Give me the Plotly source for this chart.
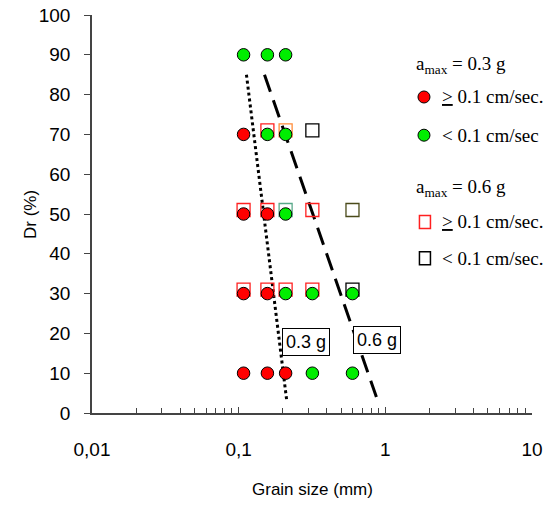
import math
import plotly.graph_objects as go

# Data: 0.3 g circles
red_circ_x = [0.108, 0.108, 0.157, 0.108, 0.157, 0.108, 0.157, 0.209]
red_circ_y = [70, 50, 50, 30, 30, 10, 10, 10]
green_circ_x = [0.108, 0.157, 0.209, 0.157, 0.209, 0.209, 0.209, 0.318, 0.597, 0.318, 0.597]
green_circ_y = [90, 90, 90, 70, 70, 50, 30, 30, 30, 10, 10]
# 0.6 g squares
red_sq_x = [0.157, 0.108, 0.157, 0.318, 0.108, 0.157, 0.209, 0.318]
red_sq_y = [71, 51, 51, 51, 31, 31, 31, 31]
orange_sq_x = [0.209]
orange_sq_y = [71]
teal_sq_x = [0.209]
teal_sq_y = [51]
black_sq_x = [0.318, 0.597]
black_sq_y = [71, 31]
olive_sq_x = [0.597]
olive_sq_y = [51]
# boundary lines
line03_x = [0.113, 0.212]
line03_y = [85, 3.5]
line06_x = [0.150, 0.869]
line06_y = [85, 4]
# line labels
label_text = ["0.3 g", "0.6 g"]
label_x = [0.286, 0.883]
label_y = [17.8, 18.3]

x_tickvals = [0.01, 0.1, 1, 10]
x_ticktext = ["0,01", "0,1", "1", "10"]

fig = go.Figure()

fig.add_trace(go.Scatter(x=line03_x, y=line03_y, mode="lines",
                         line=dict(color="black", width=3, dash="dot")))
fig.add_trace(go.Scatter(x=line06_x, y=line06_y, mode="lines",
                         line=dict(color="black", width=3, dash="18px,9px")))

def sq(x, y, c):
    fig.add_trace(go.Scatter(x=x, y=y, mode="markers",
                             marker=dict(symbol="square-open", size=13, color=c,
                                         line=dict(width=1.3, color=c))))

sq(red_sq_x, red_sq_y, "#ff2020")
sq(orange_sq_x, orange_sq_y, "#ff8c3a")
sq(teal_sq_x, teal_sq_y, "#5aa98a")
sq(black_sq_x, black_sq_y, "black")
sq(olive_sq_x, olive_sq_y, "#4a4a1a")

fig.add_trace(go.Scatter(x=red_circ_x, y=red_circ_y, mode="markers",
                         marker=dict(symbol="circle", size=12.5, color="#ff0000",
                                     line=dict(width=1, color="black"))))
fig.add_trace(go.Scatter(x=green_circ_x, y=green_circ_y, mode="markers",
                         marker=dict(symbol="circle", size=12.5, color="#00ee00",
                                     line=dict(width=1, color="black"))))

sans = "Liberation Sans, Arial, sans-serif"
serif = "Liberation Serif, Times New Roman, serif"

fig.update_layout(
    width=555, height=506,
    margin=dict(l=92, r=23, t=15, b=93),
    paper_bgcolor="white", plot_bgcolor="white",
    showlegend=False,
    font=dict(family=sans, size=19, color="black"),
    xaxis=dict(type="log", range=[-2, 1], tickvals=x_tickvals, ticktext=x_ticktext,
               showgrid=False, zeroline=False, showline=True, linecolor="#444",
               linewidth=1.5, ticks="inside", ticklen=6, tickcolor="#444",
               minor=dict(ticks="inside", ticklen=5, tickcolor="#444", dtick="D1"),
               tickfont=dict(size=19), ticklabelstandoff=18, automargin=False),
    yaxis=dict(range=[0, 100], dtick=10, showgrid=False, zeroline=False,
               showline=True, linecolor="#444", linewidth=1.5, ticks="outside",
               ticklen=6, tickcolor="#444", tickfont=dict(size=19), ticklabelstandoff=10,
               automargin=False),
)

# axis titles
fig.add_annotation(x=0.5, y=-0.193, xref="paper", yref="paper", text="Grain size (mm)",
                   showarrow=False, xanchor="center", yanchor="middle",
                   font=dict(family=sans, size=17))
fig.add_annotation(x=-0.141, y=0.5, xref="paper", yref="paper", text="Dr (%)",
                   showarrow=False, textangle=-90, xanchor="center", yanchor="middle",
                   font=dict(family=sans, size=17))

for t, x, y in zip(label_text, label_x, label_y):
    fig.add_annotation(x=math.log10(x), y=y, xref="x", yref="y", text=t, showarrow=False,
                       font=dict(family=sans, size=18), bgcolor="white",
                       bordercolor="black", borderwidth=1, borderpad=3)

# legend (manual)
def txt(x, y, t, size=19):
    fig.add_annotation(x=x, y=y, xref="paper", yref="paper", text=t, showarrow=False,
                       xanchor="left", yanchor="middle",
                       font=dict(family=serif, size=size, color="black"))

txt(0.732, 0.874, "a<sub>max</sub> = 0.3 g")
txt(0.79, 0.794, "<u>></u> 0.1 cm/sec.")
txt(0.79, 0.698, "< 0.1 cm/sec")
txt(0.732, 0.565, "a<sub>max</sub> = 0.6 g")
txt(0.79, 0.48, "<u>></u> 0.1 cm/sec.")
txt(0.79, 0.389, "< 0.1 cm/sec.")

def circ(xp, yp, fill):
    fig.add_shape(type="circle", xref="paper", yref="paper", xsizemode="pixel",
                  ysizemode="pixel", xanchor=xp, yanchor=yp, x0=-6, x1=6, y0=-6, y1=6,
                  fillcolor=fill, line=dict(color="black", width=1))

def sqr(xp, yp, col):
    fig.add_shape(type="rect", xref="paper", yref="paper", xsizemode="pixel",
                  ysizemode="pixel", xanchor=xp, yanchor=yp, x0=-5.5, x1=5.5, y0=-6.5, y1=6.5,
                  fillcolor="rgba(0,0,0,0)", line=dict(color=col, width=1.5))

circ(0.7545, 0.794, "#ff0000")
circ(0.7545, 0.698, "#00ee00")
sqr(0.7567, 0.48, "#ff2020")
sqr(0.7567, 0.389, "black")

fig.write_html("out.html", config={"displayModeBar": False},
               post_script="document.body.style.margin='0';")
